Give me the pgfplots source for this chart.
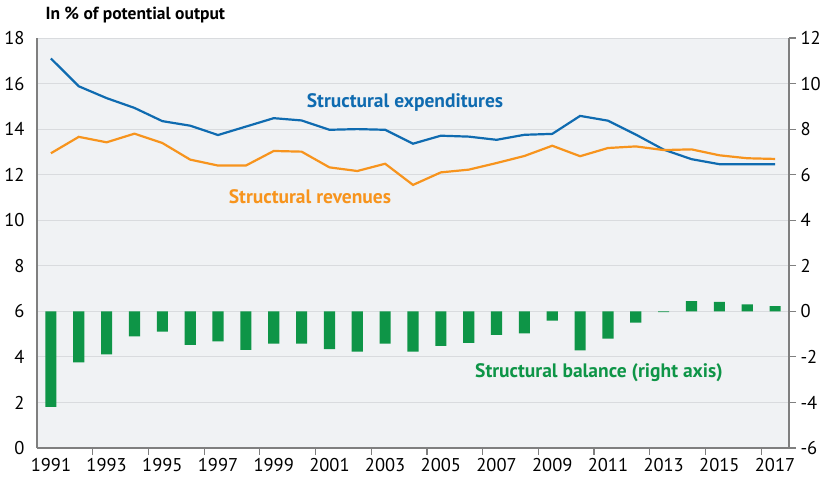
\documentclass[border=0pt]{standalone}
\usepackage{fontspec}
\setmainfont{PT Sans}
\usepackage{pgfplots}
\usepackage{pgfplotstable}
\pgfplotsset{compat=1.18}

\definecolor{expblue}{HTML}{0F6BB0}
\definecolor{revorange}{HTML}{F7941D}
\definecolor{balgreen}{HTML}{0E9547}
\definecolor{plotbg}{HTML}{F0F2F4}
\definecolor{gridgray}{HTML}{D9DBDE}
\definecolor{axisgray}{HTML}{7F7F7F}

% structural expenditures / revenues (left axis), balance (right axis)
\pgfplotstableread{
year exp   rev   bal
1991 17.10 12.94 -4.20
1992 15.88 13.66 -2.24
1993 15.36 13.42 -1.89
1994 14.93 13.80 -1.10
1995 14.35 13.39 -0.89
1996 14.15 12.66 -1.47
1997 13.74 12.40 -1.32
1998 14.11 12.40 -1.69
1999 14.48 13.04 -1.42
2000 14.38 13.01 -1.42
2001 13.97 12.32 -1.66
2002 14.00 12.16 -1.77
2003 13.97 12.48 -1.42
2004 13.36 11.55 -1.77
2005 13.71 12.10 -1.52
2006 13.67 12.22 -1.39
2007 13.53 12.51 -1.03
2008 13.75 12.82 -0.97
2009 13.79 13.27 -0.41
2010 14.58 12.81 -1.71
2011 14.37 13.17 -1.20
2012 13.76 13.24 -0.50
2013 13.10 13.08 -0.03
2014 12.68 13.11  0.45
2015 12.46 12.85  0.42
2016 12.46 12.72  0.31
2017 12.46 12.69  0.23
}\datatable

\pgfplotsset{
  tickfont/.style={font=\fontsize{18.5}{18.5}\selectfont},
}

\begin{document}
\begin{tikzpicture}
\path[use as bounding box] (0pt,0pt) rectangle (828pt,481pt);

\begin{axis}[
  at={(37pt,33pt)}, anchor=south west,
  width=752pt, height=410pt, scale only axis,
  xmin=1990.5, xmax=2017.5,
  ymin=0, ymax=18,
  axis x line*=bottom, axis y line*=left,
  axis line style={axisgray, line width=1.2pt, -},
  axis background/.style={fill=plotbg},
  ytick={0,2,...,18},
  xtick={1991,1993,...,2017},
  major tick length=0pt,
  ymajorgrids,
  grid style={gridgray, line width=0.9pt},
  extra x ticks={1992.5,1994.5,...,2016.5},
  extra x tick labels={},
  extra x tick style={major tick length=7pt, tick align=outside,
    tick style={axisgray, line width=1.2pt}},
  /pgf/number format/assume math mode=true,
  /pgf/number format/1000 sep={},
  tick label style={tickfont},
  yticklabel style={xshift=-9pt},
  xticklabel style={yshift=-7pt},
]
\addplot[expblue, line width=2.2pt] table[x=year, y=exp] {\datatable};
\addplot[revorange, line width=2.2pt] table[x=year, y=rev] {\datatable};
\end{axis}

\begin{axis}[
  at={(37pt,33pt)}, anchor=south west,
  width=752pt, height=410pt, scale only axis,
  xmin=1990.5, xmax=2017.5,
  ymin=-6, ymax=12,
  axis x line=none, axis y line*=right,
  axis line style={axisgray, line width=1.2pt, -},
  ytick={-6,-4,...,12},
  tick align=outside, major tick length=7pt,
  tick style={axisgray, line width=1.2pt},
  /pgf/number format/assume math mode=true,
  tick label style={tickfont},
  yticklabel style={xshift=1pt},
]
\addplot[ybar, bar width=0.4, fill=balgreen, draw=none]
  table[x=year, y=bal] {\datatable};
\end{axis}

\node[anchor=base west, font=\bfseries\fontsize{17.5}{17.5}\selectfont]
  at (42pt,461pt) {In \% of potential output};
\node[font=\bfseries\fontsize{19.5}{19.5}\selectfont, text=expblue]
  at (405pt,379pt) {Structural expenditures};
\node[font=\bfseries\fontsize{19.5}{19.5}\selectfont, text=revorange]
  at (310pt,284pt) {Structural revenues};
\node[font=\bfseries\fontsize{19.5}{19.5}\selectfont, text=balgreen]
  at (599pt,108pt) {Structural balance (right axis)};
\end{tikzpicture}
\end{document}
